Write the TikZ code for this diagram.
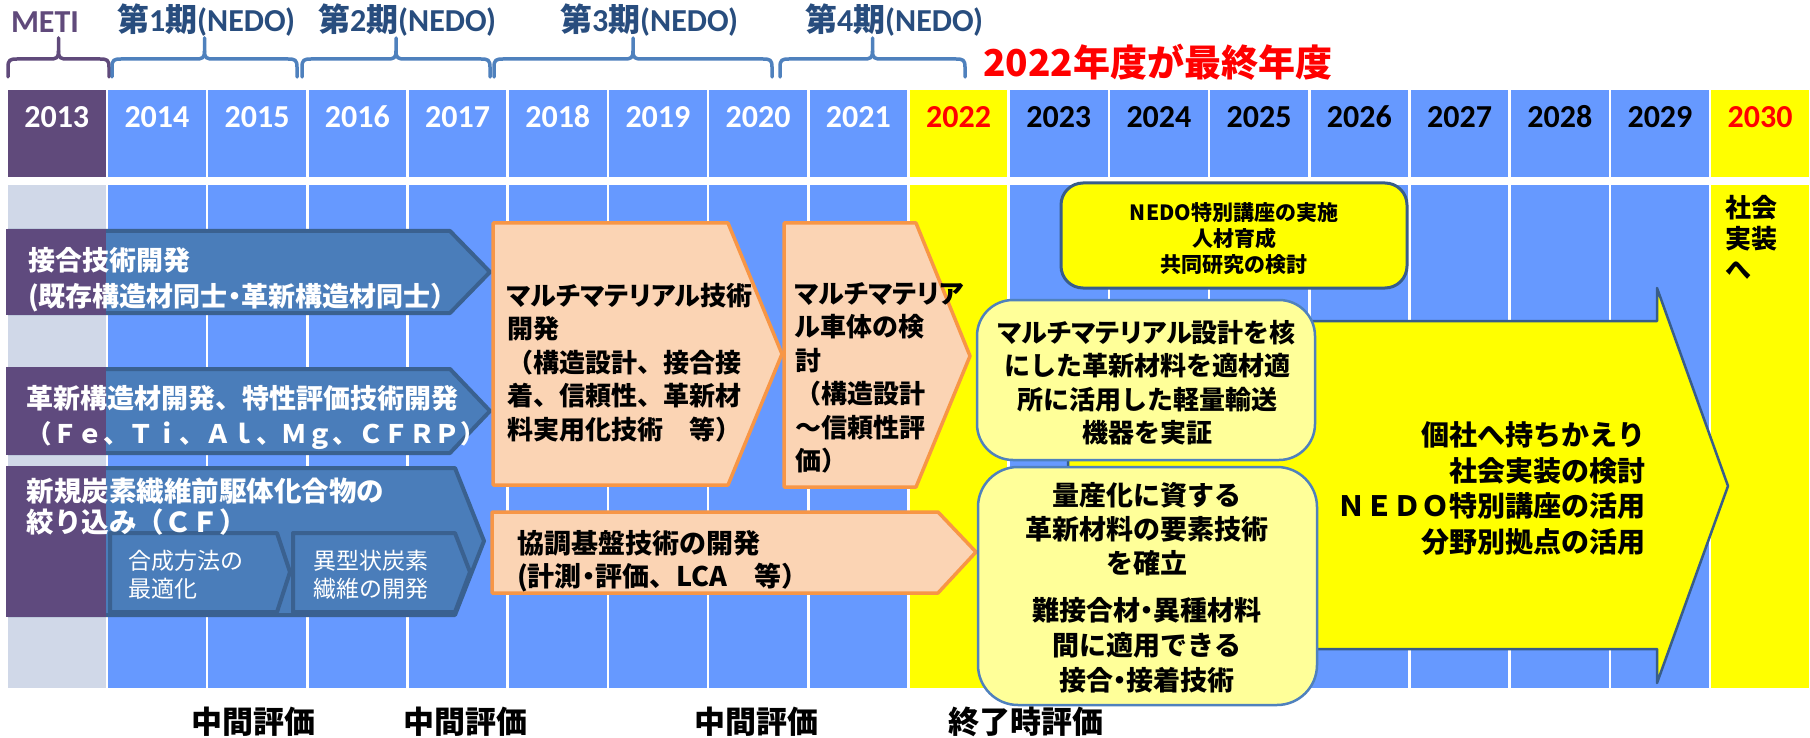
\documentclass[tikz,border=0pt]{standalone}
\usepackage{fontspec}
\setmainfont{Carlito}
\newfontfamily\jp{Noto Sans CJK JP}
\newfontfamily\jpk{Noto Sans CJK JP}[RawFeature=+palt]
\newcommand\kana[1]{{\jpk #1}}
\definecolor{colblue}{HTML}{6699FF}
\definecolor{colgrey}{HTML}{D0D8E8}
\definecolor{metipurple}{HTML}{604A7B}
\definecolor{arrblue}{HTML}{4A7DBA}
\definecolor{arrborder}{HTML}{3A6190}
\definecolor{arrpurple}{HTML}{5F4A7E}
\definecolor{periodblue}{HTML}{284D7E}
\definecolor{bracecol}{HTML}{4F81BD}
\definecolor{peach}{HTML}{FBD4B4}
\definecolor{orangeb}{HTML}{F79646}
\definecolor{lightyellow}{HTML}{FFFF99}
\definecolor{boxborder}{HTML}{4F81BD}
\definecolor{darkborder}{HTML}{385D8A}
\definecolor{pureyellow}{HTML}{FFFF00}
\definecolor{purered}{HTML}{FF0000}
\newcommand\mybrace[3]{%
  \pgfmathsetmacro\brmid{(#1+#2)/2}%
  \draw[#3] (#1,77) -- (#1,67) .. controls (#1,60) and (#1+2,59) .. (#1+9,59) -- (\brmid-9,59) .. controls (\brmid-2,59) and (\brmid,58) .. (\brmid,51) -- (\brmid,38);
  \draw[#3] (#2,77) -- (#2,67) .. controls (#2,60) and (#2-2,59) .. (#2-9,59) -- (\brmid+9,59) .. controls (\brmid+2,59) and (\brmid,58) .. (\brmid,51);
}
\begin{document}
\begin{tikzpicture}[x=1pt,y=-1pt,
  every node/.style={inner sep=0pt, outer sep=0pt},
  yeartext/.style={font=\fontsize{32}{38}\selectfont\bfseries, anchor=base},
  period/.style={font=\fontsize{32}{36}\selectfont\bfseries, text=periodblue, anchor=base west},
  bracestyle/.style={line width=3.5pt, line cap=round, line join=round},
  bluearrow/.style={fill=arrblue, draw=arrborder, line width=4pt, line join=round},
  peachbox/.style={fill=peach, draw=orangeb, line width=3.5pt, line join=round},
  ybox/.style={fill=lightyellow, draw=boxborder, line width=2.5pt},
  wtxt/.style={text=white, align=left, anchor=north west},
  btxt/.style={text=black, align=left, anchor=north west},
  ctxt/.style={text=black, align=center, anchor=north},
  evaltxt/.style={font=\jp\bfseries\fontsize{31}{36}\selectfont, anchor=base}
]
\useasboundingbox[fill=white] (0,0) rectangle (1810,738);

% ---- columns ----
\foreach \i/\hc/\bc/\tc in {0/metipurple/colgrey/white, 1/colblue/colblue/white,
  2/colblue/colblue/white, 3/colblue/colblue/white, 4/colblue/colblue/white,
  5/colblue/colblue/white, 6/colblue/colblue/white, 7/colblue/colblue/white,
  8/colblue/colblue/white, 9/pureyellow/pureyellow/purered, 10/colblue/colblue/black,
  11/colblue/colblue/black, 12/colblue/colblue/black, 13/colblue/colblue/black,
  14/colblue/colblue/black, 15/colblue/colblue/black, 16/colblue/colblue/black,
  17/pureyellow/pureyellow/purered} {
  \pgfmathsetmacro\xl{8+100.2*\i}
  \fill[\hc] (\xl,90) rectangle (\xl+97.5,177);
  \fill[\bc] (\xl,185) rectangle (\xl+97.5,688);
  \node[yeartext, text=\tc] (yr\i) at (\xl+48.75,128) {\the\numexpr2013+\i\relax};
}

% ---- braces and period labels ----
\mybrace{8}{109}{bracestyle, draw=metipurple}
\mybrace{112}{297}{bracestyle, draw=bracecol}
\mybrace{302}{490}{bracestyle, draw=bracecol}
\mybrace{494}{772}{bracestyle, draw=bracecol}
\mybrace{780}{965}{bracestyle, draw=bracecol}
\node[font=\fontsize{32}{36}\selectfont\bfseries, text=metipurple, anchor=base west] (meti) at (11,33) {METI};
\node[period] (per1) at (117,32) {{\jp 第}1{\jp 期}(NEDO)};
\node[period] (per2) at (318,32) {{\jp 第}2{\jp 期}(NEDO)};
\node[period] (per3) at (560,32) {{\jp 第}3{\jp 期}(NEDO)};
\node[period] (per4) at (805,32) {{\jp 第}4{\jp 期}(NEDO)};
\node[font=\jp\bfseries\fontsize{37}{40}\selectfont, text=purered, anchor=base west] (final) at (983,77) {2022年度が最終年度};

% ---- blue arrows ----
\draw[bluearrow] (8,231) -- (450,231) -- (490,272) -- (450,313) -- (8,313) -- cycle;
\draw[bluearrow] (8,369) -- (450,369) -- (490,411) -- (450,453) -- (8,453) -- cycle;
\draw[bluearrow] (8,468) -- (455,468) -- (484,541) -- (455,615) -- (8,615) -- cycle;
\fill[arrpurple] (6,229) rectangle (106,315);
\fill[arrpurple] (6,367) rectangle (106,455);
\fill[arrpurple] (6,466) rectangle (106,617);
\draw[bluearrow] (110,533) -- (277,533) -- (290,572) -- (277,612) -- (110,612) -- cycle;
\draw[bluearrow] (293,533) -- (455,533) -- (470,572) -- (455,612) -- (293,612) -- cycle;

% ---- orange boxes ----
\draw[peachbox] (493,223) -- (728,223) -- (782,354) -- (728,485) -- (493,485) -- cycle;
\draw[peachbox] (784,223) -- (916,223) -- (970,356) -- (916,487) -- (784,487) -- cycle;
\draw[peachbox] (492,512) -- (938,512) -- (976,552) -- (938,593) -- (492,593) -- cycle;

% ---- big yellow arrow ----
\draw[fill=pureyellow, draw=darkborder, line width=2.5pt, line join=round]
  (1068,321) -- (1657,321) -- (1657,288) -- (1728,486) -- (1657,683) -- (1657,649) -- (1068,649) -- cycle;

% ---- rounded boxes ----
\draw[fill=pureyellow, draw=darkborder, line width=3pt, rounded corners=22pt] (1061,183) rectangle (1407,288);
\draw[ybox, rounded corners=36pt] (977,300) rectangle (1315,460);
\draw[ybox, rounded corners=40pt] (978,467) rectangle (1317,705);

% ---- texts ----
\node[wtxt, font=\jp\bfseries\fontsize{27}{36}\selectfont] (a1t) at (28,247) {接合技術開発\\(既存構造材同士\kana{・}革新構造材同士）};
\node[wtxt, font=\jp\bfseries\fontsize{27}{35}\selectfont] (a2t) at (27,385) {革新構造材開発、特性評価技術開発\\{\fontsize{25.5}{35}\selectfont（Ｆｅ、Ｔｉ、Ａｌ、Ｍｇ、ＣＦＲＰ）}};
\node[wtxt, font=\jp\bfseries\fontsize{27.5}{31}\selectfont] (a3t) at (27,478) {新規炭素繊維前駆体化合物の\\絞り込み（ＣＦ）};
\node[wtxt, font=\jp\fontsize{23}{28.5}\selectfont] (s1t) at (128,550) {合成方法の\\最適化};
\node[wtxt, font=\jp\fontsize{23}{28.5}\selectfont] (s2t) at (313,550) {異型状炭素\\繊維の開発};

\node[btxt, font=\jp\bfseries\fontsize{26}{33.5}\selectfont] (o1t) at (507,283) {\kana{マルチマテリアル}技術\\開発\\（構造設計、接合接\\着、信頼性、革新材\\料実用化技術　等）};
\node[btxt, font=\jp\bfseries\fontsize{26}{33.5}\selectfont] (o2t) at (795,282) {\kana{マルチマテリア}\\\kana{ル}車体の検\\討\\（構造設計\\〜信頼性評\\価）};
\node[btxt, font=\jp\bfseries\fontsize{27}{33}\selectfont] (o3t) at (517,530) {協調基盤技術の開発\\(計測\kana{・}評価、LCA　等）};

\node[ctxt, font=\jp\bfseries\fontsize{21}{26}\selectfont] (ct) at (1234,203) {NEDO特別講座の実施\\人材育成\\共同研究の検討};
\node[ctxt, font=\jp\bfseries\fontsize{26}{33.5}\selectfont] (boxat) at (1147,320) {\kana{マルチマテリアル}設計を核\\にした革新材料を適材適\\所に活用した軽量輸送\\機器を実証};
\node[ctxt, font=\jp\bfseries\fontsize{27}{34}\selectfont] (boxbt1) at (1147,482) {量産化に資する\\革新材料の要素技術\\を確立};
\node[ctxt, font=\jp\bfseries\fontsize{27}{35}\selectfont] (boxbt2) at (1147,597) {難接合材\kana{・}異種材料\\間に適用できる\\接合\kana{・}接着技術};
\node[text=black, align=right, anchor=north east, font=\jp\bfseries\fontsize{28}{35.5}\selectfont] (bigt) at (1645,422) {個社へ持ちかえり\\社会実装の検討\\ＮＥＤＯ特別講座の活用\\分野別拠点の活用};
\node[btxt, font=\jp\bfseries\fontsize{26}{31}\selectfont] (soc) at (1725,195) {社会\\実装\\へ};

\node[evaltxt] (ev1) at (253,733) {中間評価};
\node[evaltxt] (ev2) at (465,733) {中間評価};
\node[evaltxt] (ev3) at (756,733) {中間評価};
\node[evaltxt] (ev4) at (1026,733) {終了時評価};
\end{tikzpicture}
\end{document}
